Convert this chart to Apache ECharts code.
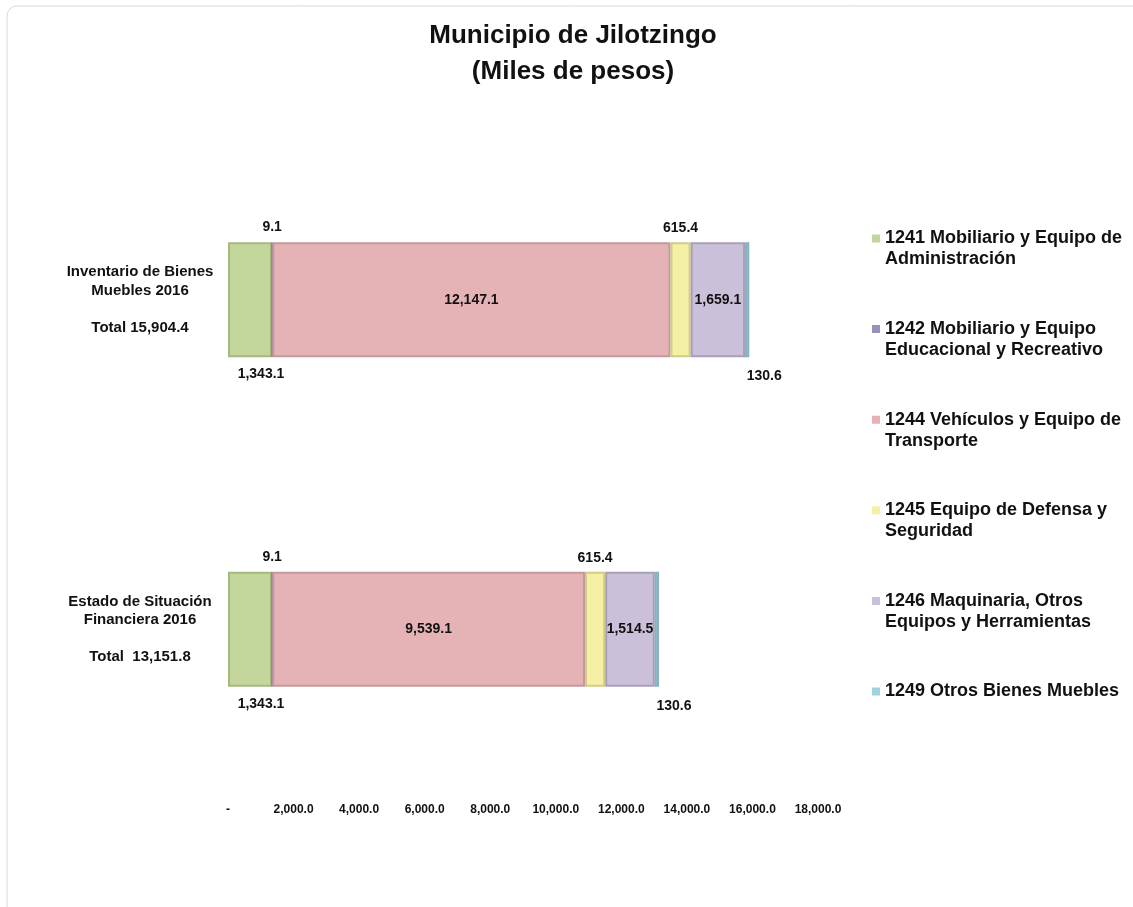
<!DOCTYPE html>
<html>
<head>
<meta charset="utf-8">
<script src="https://cdn.jsdelivr.net/npm/echarts@6/dist/echarts.min.js"></script>
<style>
html,body{margin:0;padding:0;background:#fff;}
#chart{width:1133px;height:907px;}
</style>
</head>
<body>
<div id="chart"></div>
<script>
// ---- Data ----
var categories = ['Inventario de Bienes\nMuebles 2016', 'Estado de Situación\nFinanciera 2016'];
var totalLabels = ['Total 15,904.4', 'Total  13,151.8'];
var seriesNames = [
  '1241 Mobiliario y Equipo de\nAdministración',
  '1242 Mobiliario y Equipo\nEducacional y Recreativo',
  '1244 Vehículos y Equipo de\nTransporte',
  '1245 Equipo de Defensa y\nSeguridad',
  '1246 Maquinaria, Otros\nEquipos y Herramientas',
  '1249 Otros Bienes Muebles\n\u00a0'
];
var s1241 = [1343.1, 1343.1];
var s1242 = [9.1, 9.1];
var s1244 = [12147.1, 9539.1];
var s1245 = [615.4, 615.4];
var s1246 = [1659.1, 1514.5];
var s1249 = [130.6, 130.6];

// ---- Styles ----
var FONT = 'Arial, "Liberation Sans", sans-serif';
var colors = ['#c3d69b', '#9b90b9', '#e5b3b6', '#f5f0a3', '#cbc0da', '#9fd3e1'];
var borders = ['#a6b87e', '#8a80a3', '#c39a9c', '#d1cc88', '#a99fb8', '#85b3c0'];
var labelCfg = [
  {show: true, position: 'bottom', offset: [11, 0], distance: 10},
  {show: true, position: 'top', distance: 7},
  {show: true, position: 'inside'},
  {show: true, position: 'top', distance: 7},
  {show: true, position: 'inside'},
  {show: true, position: 'bottom', offset: [17, 0], distance: 12}
];
var dataSets = [s1241, s1242, s1244, s1245, s1246, s1249];

function fmt(v) {
  return Number(v).toLocaleString('en-US', {minimumFractionDigits: 1, maximumFractionDigits: 1});
}

var series = dataSets.map(function (d, i) {
  var lab = Object.assign({
    color: '#111', fontFamily: FONT, fontSize: 14, fontWeight: 'bold',
    formatter: function (p) { return fmt(p.value); }
  }, labelCfg[i]);
  return {
    name: seriesNames[i],
    type: 'bar',
    stack: 'total',
    barWidth: 115,
    data: d,
    itemStyle: {color: colors[i], borderColor: borders[i], borderWidth: 2},
    label: lab,
    emphasis: {disabled: true}
  };
});

var legendIcon = 'path://M0,0h0.01v0.01h-0.01z M0,6.5h8v8h-8z M0,41.99h0.01v0.01h-0.01z';

var chart = echarts.init(document.getElementById('chart'), null, {renderer: 'canvas'});
chart.setOption({
  backgroundColor: '#ffffff',
  animation: false,
  color: colors,
  title: {
    text: 'Municipio de Jilotzingo\n(Miles de pesos)',
    left: 573,
    textAlign: 'center',
    top: 18,
    padding: 0,
    textStyle: {fontFamily: FONT, fontSize: 26, fontWeight: 'bold', color: '#111', lineHeight: 36}
  },
  legend: {
    orient: 'vertical',
    left: 872,
    top: 228,
    padding: 0,
    itemGap: 48.6,
    itemWidth: 8,
    itemHeight: 42,
    icon: legendIcon,
    itemStyle: {borderWidth: 0},
    selectedMode: false,
    data: seriesNames,
    textStyle: {fontFamily: FONT, fontSize: 18, fontWeight: 'bold', color: '#111', lineHeight: 21}
  },
  grid: {left: 228, right: 315, top: 135, bottom: 113, containLabel: false},
  xAxis: {
    type: 'value',
    min: 0,
    max: 18000,
    interval: 2000,
    axisLine: {show: false},
    axisTick: {show: false},
    splitLine: {show: false},
    axisLabel: {
      margin: 10,
      fontFamily: FONT, fontSize: 12, fontWeight: 'bold', color: '#111',
      formatter: function (v) { return v === 0 ? '-' : fmt(v); }
    }
  },
  yAxis: {
    type: 'category',
    inverse: true,
    data: categories,
    axisLine: {show: false},
    axisTick: {show: false},
    splitLine: {show: false},
    axisLabel: {
      margin: 88,
      align: 'center',
      fontFamily: FONT, fontSize: 15, fontWeight: 'bold', color: '#111', lineHeight: 18.5,
      formatter: function (v, idx) { return v + '\n\n' + totalLabels[idx]; }
    }
  },
  graphic: [{
    type: 'rect',
    shape: {x: 7, y: 6, width: 1150, height: 920, r: 10},
    style: {fill: 'none', stroke: '#d8d8d8', lineWidth: 1},
    silent: true,
    z: -1
  }],
  series: series
});
</script>
</body>
</html>
